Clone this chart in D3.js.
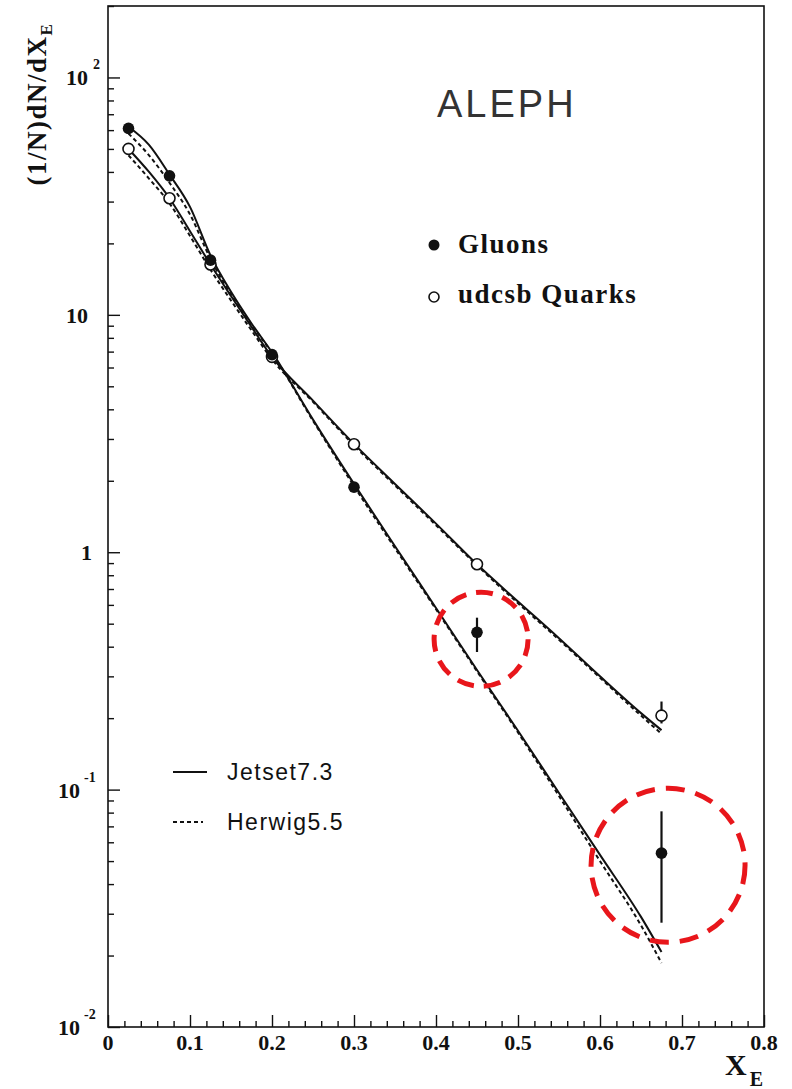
<!DOCTYPE html>
<html>
<head>
<meta charset="utf-8">
<script src="https://cdn.jsdelivr.net/npm/d3@7"></script>
<style>
  html, body { margin: 0; padding: 0; background: #fff; }
  svg { display: block; }
</style>
</head>
<body>
<svg id="chart" width="792" height="1089"></svg>
<script>
// Scaled energy distributions of charged particles in gluon and quark jets (ALEPH)

// Measured points: x_E bin centres and (1/N) dN/dx_E
const gluonX   = [0.025, 0.075, 0.125, 0.2, 0.3, 0.45, 0.675];
const gluonY   = [61, 38.5, 17.0, 6.8, 1.88, 0.46, 0.054];
const gluonLo  = [null, null, null, null, null, 0.38, 0.0275];
const gluonHi  = [null, null, null, null, null, 0.53, 0.081];

const quarkX   = [0.025, 0.075, 0.125, 0.2, 0.3, 0.45, 0.675];
const quarkY   = [50, 31, 16.3, 6.65, 2.85, 0.89, 0.205];
const quarkLo  = [null, null, null, null, null, null, 0.19];
const quarkHi  = [null, null, null, null, null, null, 0.235];

// Model predictions (Jetset 7.3 solid, Herwig 5.5 dashed)
const modelX = [0.025, 0.05, 0.075, 0.1, 0.125, 0.15, 0.175, 0.2, 0.25, 0.3, 0.35, 0.4, 0.45, 0.5, 0.55, 0.6, 0.65, 0.675];
const jetsetGluon = [62, 52, 39, 28.5, 17.8, 12.5, 9.2, 6.95, 3.62, 1.94, 1.06, 0.582, 0.319, 0.177, 0.0968, 0.0531, 0.0291, 0.0207];
const herwigGluon = [58, 47, 36, 26.5, 17.2, 12.2, 9.1, 6.9, 3.58, 1.90, 1.04, 0.575, 0.315, 0.174, 0.094, 0.050, 0.0268, 0.0186];
const jetsetQuark = [50, 40, 31, 22.5, 16.3, 12.0, 8.9, 6.65, 4.35, 2.86, 1.94, 1.32, 0.89, 0.62, 0.434, 0.30, 0.21, 0.178];
const herwigQuark = [47, 37.5, 29.5, 21.5, 15.5, 11.5, 8.6, 6.5, 4.3, 2.82, 1.91, 1.30, 0.88, 0.61, 0.428, 0.296, 0.205, 0.172];

// Highlight rings around the two high-x gluon points: [x, y, radius in px]
const highlights = [[0.455, 0.43, 47], [0.683, 0.048, 77]];

// Tick definitions
const xTickLabels = ["0", "0.1", "0.2", "0.3", "0.4", "0.5", "0.6", "0.7", "0.8"];
const yDecades = [0.01, 0.1, 1, 10, 100];

const svg = d3.select("#chart");
const frame = {left: 108, right: 764, top: 6, bottom: 1027};

const x = d3.scaleLinear().domain([0, 0.8]).range([frame.left, frame.right]);
const y = d3.scaleLog().domain([0.01, 200]).range([frame.bottom, frame.top]);

const ink = "#111";
const serif = "'Liberation Serif', 'Times New Roman', serif";
const sans = "'Liberation Sans', Arial, sans-serif";

// Frame
svg.append("rect")
  .attr("x", frame.left).attr("y", frame.top)
  .attr("width", frame.right - frame.left).attr("height", frame.bottom - frame.top)
  .attr("fill", "none").attr("stroke", ink).attr("stroke-width", 1.6);

// Left axis ticks (pointing inward)
const yMinor = [];
yDecades.forEach(d => {
  for (let k = 2; k <= 9; k++) { const v = d * k; if (v <= 200) yMinor.push(v); }
});
const yAxisMajor = d3.axisRight(y).tickValues(yDecades).tickSize(12).tickFormat("");
const yAxisMinor = d3.axisRight(y).tickValues(yMinor).tickSize(6).tickFormat("");
[yAxisMajor, yAxisMinor].forEach(ax => {
  const g = svg.append("g").attr("transform", `translate(${frame.left},0)`).call(ax);
  g.select(".domain").remove();
  g.selectAll("line").attr("stroke", ink).attr("stroke-width", 1.4);
});

// Bottom axis ticks (pointing inward)
const xMajor = d3.range(0, 9).map(i => i / 10);
const xMinor = d3.range(0, 41).map(i => i / 50).filter(v => Math.abs(v * 10 - Math.round(v * 10)) > 1e-6);
const xAxisMajor = d3.axisTop(x).tickValues(xMajor).tickSize(12).tickFormat("");
const xAxisMinor = d3.axisTop(x).tickValues(xMinor).tickSize(6).tickFormat("");
[xAxisMajor, xAxisMinor].forEach(ax => {
  const g = svg.append("g").attr("transform", `translate(0,${frame.bottom})`).call(ax);
  g.select(".domain").remove();
  g.selectAll("line").attr("stroke", ink).attr("stroke-width", 1.4);
});

// X tick labels
svg.append("g").selectAll("text").data(xMajor).join("text")
  .attr("x", d => x(d)).attr("y", frame.bottom + 23)
  .attr("text-anchor", "middle")
  .attr("font-family", serif).attr("font-weight", "bold").attr("font-size", 22)
  .attr("fill", ink)
  .text((d, i) => xTickLabels[i]);

// Y tick labels (powers of ten)
const yLab = svg.append("g").attr("font-family", serif).attr("font-weight", "bold").attr("fill", ink);
const powers = [{v: 100, e: "2"}, {v: 10, e: null}, {v: 1, e: null}, {v: 0.1, e: "-1"}, {v: 0.01, e: "-2"}];
powers.forEach(p => {
  if (p.v === 1) {
    yLab.append("text").attr("x", 92).attr("y", y(p.v) + 8).attr("text-anchor", "end")
      .attr("font-size", 22).text("1");
  } else if (p.v === 10) {
    yLab.append("text").attr("x", 88).attr("y", y(p.v) + 8).attr("text-anchor", "end")
      .attr("font-size", 22).text("10");
  } else {
    const bx = p.v === 100 ? 88 : 80;
    yLab.append("text").attr("x", bx).attr("y", y(p.v) + 8).attr("text-anchor", "end")
      .attr("font-size", 22).text("10");
    yLab.append("text").attr("x", bx + (p.v === 100 ? 5 : 4)).attr("y", y(p.v) - 8)
      .attr("font-size", 14).text(p.e);
  }
});

// Axis titles
const yt = svg.append("text")
  .attr("transform", "translate(46,104) rotate(-90)")
  .attr("text-anchor", "middle")
  .attr("font-family", serif).attr("font-weight", "bold").attr("font-size", 27)
  .attr("letter-spacing", 1.5)
  .attr("fill", ink);
yt.append("tspan").text("(1/N)dN/dX");
yt.append("tspan").attr("dy", 6).attr("font-size", 17).text("E");

const xt = svg.append("text")
  .attr("x", 725).attr("y", 1075)
  .attr("font-family", serif).attr("font-weight", "bold").attr("font-size", 30)
  .attr("fill", ink);
xt.append("tspan").text("X");
xt.append("tspan").attr("dx", 3).attr("dy", 11).attr("font-size", 20).text("E");

// Model curves
const line = d3.line().x(d => x(d[0])).y(d => y(d[1])).curve(d3.curveMonotoneX);
const curves = [
  {vals: jetsetGluon, dash: null},
  {vals: jetsetQuark, dash: null},
  {vals: herwigGluon, dash: "4,3"},
  {vals: herwigQuark, dash: "4,3"}
];
curves.forEach(c => {
  svg.append("path")
    .datum(modelX.map((v, i) => [v, c.vals[i]]))
    .attr("d", line)
    .attr("fill", "none").attr("stroke", ink)
    .attr("stroke-width", 2)
    .attr("stroke-dasharray", c.dash);
});

// Error bars
function errorBars(xs, lo, hi) {
  const d = xs.map((v, i) => ({x: v, lo: lo[i], hi: hi[i]})).filter(e => e.lo !== null);
  svg.append("g").selectAll("line").data(d).join("line")
    .attr("x1", e => x(e.x)).attr("x2", e => x(e.x))
    .attr("y1", e => y(e.lo)).attr("y2", e => y(e.hi))
    .attr("stroke", ink).attr("stroke-width", 2.2);
}
errorBars(gluonX, gluonLo, gluonHi);
errorBars(quarkX, quarkLo, quarkHi);

// Data points
svg.append("g").selectAll("circle").data(quarkX.map((v, i) => [v, quarkY[i]])).join("circle")
  .attr("cx", d => x(d[0])).attr("cy", d => y(d[1])).attr("r", 5.5)
  .attr("fill", "#fff").attr("stroke", ink).attr("stroke-width", 1.6);
svg.append("g").selectAll("circle").data(gluonX.map((v, i) => [v, gluonY[i]])).join("circle")
  .attr("cx", d => x(d[0])).attr("cy", d => y(d[1])).attr("r", 5.8)
  .attr("fill", ink);

// Experiment label
svg.append("text").attr("x", 437).attr("y", 117)
  .attr("font-family", sans).attr("font-size", 38).attr("letter-spacing", 3)
  .attr("fill", "#333").text("ALEPH");

// Data legend
svg.append("circle").attr("cx", 434).attr("cy", 245).attr("r", 5.5).attr("fill", ink);
svg.append("circle").attr("cx", 434).attr("cy", 297).attr("r", 5).attr("fill", "#fff")
  .attr("stroke", ink).attr("stroke-width", 1.6);
svg.append("text").attr("x", 458).attr("y", 253)
  .attr("font-family", serif).attr("font-weight", "bold").attr("font-size", 27)
  .attr("letter-spacing", 1.5).attr("fill", ink).text("Gluons");
svg.append("text").attr("x", 458).attr("y", 303)
  .attr("font-family", serif).attr("font-weight", "bold").attr("font-size", 27)
  .attr("letter-spacing", 1.5).attr("fill", ink).text("udcsb Quarks");

// Model legend
svg.append("line").attr("x1", 173).attr("x2", 207).attr("y1", 772).attr("y2", 772)
  .attr("stroke", ink).attr("stroke-width", 2);
svg.append("line").attr("x1", 173).attr("x2", 203).attr("y1", 822).attr("y2", 822)
  .attr("stroke", ink).attr("stroke-width", 2).attr("stroke-dasharray", "4,3");
svg.append("text").attr("x", 227).attr("y", 780)
  .attr("font-family", sans).attr("font-size", 23).attr("letter-spacing", 1.5)
  .attr("fill", ink).text("Jetset7.3");
svg.append("text").attr("x", 227).attr("y", 830)
  .attr("font-family", sans).attr("font-size", 23).attr("letter-spacing", 1.5)
  .attr("fill", ink).text("Herwig5.5");

// Red dashed highlight rings
svg.append("g").selectAll("circle").data(highlights).join("circle")
  .attr("cx", d => x(d[0])).attr("cy", d => y(d[1])).attr("r", d => d[2])
  .attr("fill", "none").attr("stroke", "#e8161b").attr("stroke-width", 5)
  .attr("stroke-dasharray", d => d[2] > 60 ? "19,11" : "17,10");
</script>
</body>
</html>
